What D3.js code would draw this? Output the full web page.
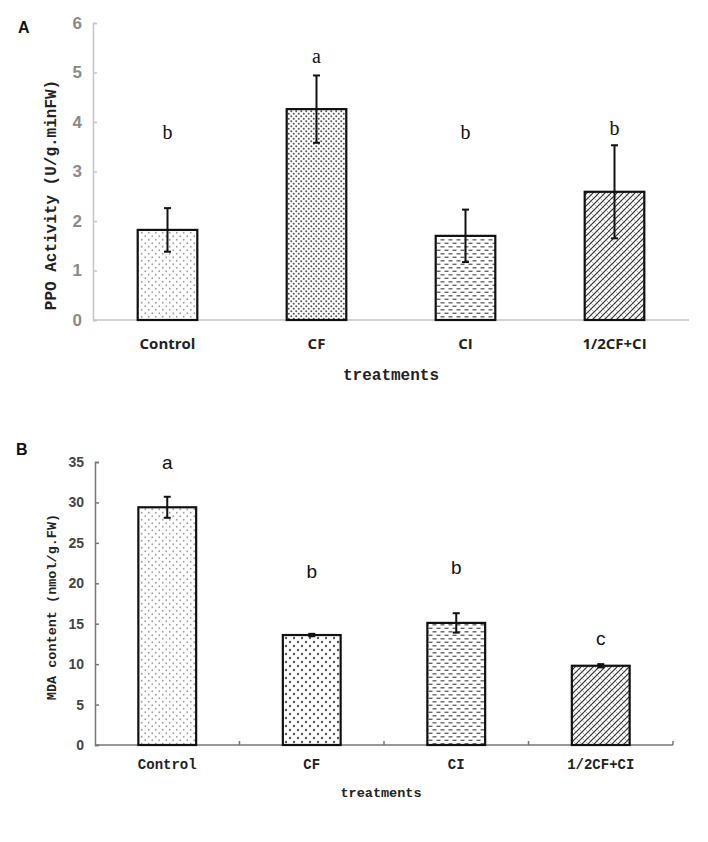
<!DOCTYPE html>
<html><head><meta charset="utf-8">
<script src="https://cdn.jsdelivr.net/npm/d3@7"></script>
<style>body{margin:0;background:#fff}svg{display:block}</style>
</head><body>
<script>
const categories = ["Control", "CF", "CI", "1/2CF+CI"];
const ppoMean = [1.82, 4.26, 1.70, 2.59];
const ppoErr = [0.44, 0.68, 0.53, 0.94];
const ppoLetters = ["b", "a", "b", "b"];
const ppoLetterY = [3.8, 5.33, 3.8, 3.88];
const ppoTicks = [0, 1, 2, 3, 4, 5, 6];
const mdaMean = [29.4, 13.6, 15.1, 9.8];
const mdaErr = [1.3, 0.15, 1.2, 0.2];
const mdaLetters = ["a", "b", "b", "c"];
const mdaLetterY = [34.9, 21.5, 21.9, 13.2];
const mdaTicks = [0, 5, 10, 15, 20, 25, 30, 35];
const patternsA = ["pDotLight", "pDotDense", "pDash", "pDiag"];
const patternsB = ["pDotLight", "pDotBig", "pDash", "pDiag"];

const svg = d3.select("body").append("svg").attr("width", 708).attr("height", 842);
const defs = svg.append("defs");

// patterns
function dotPattern(id, size, r, color) {
  const p = defs.append("pattern").attr("id", id).attr("patternUnits", "userSpaceOnUse")
    .attr("width", size).attr("height", size);
  p.append("rect").attr("width", size).attr("height", size).attr("fill", "#fff");
  p.append("circle").attr("cx", size / 4).attr("cy", size / 4).attr("r", r).attr("fill", color);
  p.append("circle").attr("cx", 3 * size / 4).attr("cy", 3 * size / 4).attr("r", r).attr("fill", color);
}
dotPattern("pDotLight", 7, 0.9, "#a0a0a0");
dotPattern("pDotDense", 5, 1.0, "#555");
dotPattern("pDotBig", 8, 1.2, "#555");
{
  const p = defs.append("pattern").attr("id", "pDash").attr("patternUnits", "userSpaceOnUse")
    .attr("width", 8).attr("height", 7);
  p.append("rect").attr("width", 8).attr("height", 7).attr("fill", "#fff");
  p.append("line").attr("x1", 0.5).attr("x2", 4.5).attr("y1", 1.8).attr("y2", 1.8).attr("stroke", "#666").attr("stroke-width", 1.4);
  p.append("line").attr("x1", 4.5).attr("x2", 8.5).attr("y1", 5.3).attr("y2", 5.3).attr("stroke", "#666").attr("stroke-width", 1.4);
  p.append("line").attr("x1", -3.5).attr("x2", 0.5).attr("y1", 5.3).attr("y2", 5.3).attr("stroke", "#666").attr("stroke-width", 1.4);
}
{
  const p = defs.append("pattern").attr("id", "pDiag").attr("patternUnits", "userSpaceOnUse")
    .attr("width", 6).attr("height", 6);
  p.append("rect").attr("width", 6).attr("height", 6).attr("fill", "#fff");
  p.append("path").attr("d", "M-1,7 L7,-1 M-4,4 L4,-4 M2,10 L10,2").attr("stroke", "#333").attr("stroke-width", 1.2);
  p.append("path").attr("d", "M0,0 L6,6").attr("stroke", "#999").attr("stroke-width", 0.7);
}

function panel(cfg) {
  const x = d3.scaleBand().domain(categories).range([cfg.x0, cfg.x1])
    .paddingInner(0.6).paddingOuter(0.3);
  const y = d3.scaleLinear().domain([0, cfg.ticks[cfg.ticks.length - 1]]).range([cfg.y0, cfg.y1]);
  const g = svg.append("g");

  // y axis
  const ya = g.append("g").attr("transform", `translate(${cfg.x0},0)`)
    .call(d3.axisRight(y).tickValues(cfg.ticks).tickSize(4).tickFormat(""));
  ya.selectAll("path,line").attr("stroke", cfg.axisColor).attr("stroke-width", 1.5);
  g.selectAll(".ytl").data(cfg.ticks).join("text")
    .attr("x", cfg.x0 - 11).attr("y", d => y(d)).attr("text-anchor", "end")
    .attr("dominant-baseline", "central")
    .attr("font-family", cfg.tickFont).attr("font-weight", "bold").attr("font-size", cfg.tickSize)
    .attr("fill", cfg.tickColor).text(d => d);

  // x axis
  const xa = g.append("g").attr("transform", `translate(0,${cfg.y0})`);
  xa.append("line").attr("x1", cfg.x0).attr("x2", cfg.x1).attr("stroke", cfg.axisColor).attr("stroke-width", 1.5);
  if (cfg.xTicks) {
    const bounds = categories.map(c => x(c) - x.step() * x.paddingInner() / 2 + x.step());
    xa.selectAll(".xt").data(bounds).join("line")
      .attr("x1", d => d).attr("x2", d => d).attr("y1", 0).attr("y2", -4)
      .attr("stroke", cfg.axisColor).attr("stroke-width", 1.5);
  }
  g.selectAll(".xtl").data(categories).join("text")
    .attr("x", d => x(d) + x.bandwidth() / 2).attr("y", cfg.catY).attr("text-anchor", "middle")
    .attr("dominant-baseline", "central")
    .attr("font-family", cfg.catFont).attr("font-weight", "bold").attr("font-size", cfg.catSize)
    .attr("fill", "#222").text(d => d);

  // bars
  g.selectAll(".bar").data(categories).join("rect")
    .attr("x", d => x(d)).attr("width", x.bandwidth())
    .attr("y", (d, i) => y(cfg.mean[i])).attr("height", (d, i) => cfg.y0 - y(cfg.mean[i]))
    .attr("fill", (d, i) => `url(#${cfg.patterns[i]})`)
    .attr("stroke", "#111").attr("stroke-width", 2.2);

  // error bars
  categories.forEach((c, i) => {
    const cx = x(c) + x.bandwidth() / 2;
    const top = y(cfg.mean[i] + cfg.err[i]), bot = y(cfg.mean[i] - cfg.err[i]);
    g.append("line").attr("x1", cx).attr("x2", cx).attr("y1", top).attr("y2", bot).attr("stroke", "#111").attr("stroke-width", 2);
    [top, bot].forEach(yy => g.append("line").attr("x1", cx - 3.5).attr("x2", cx + 3.5)
      .attr("y1", yy).attr("y2", yy).attr("stroke", "#111").attr("stroke-width", 2));
  });

  // letters
  g.selectAll(".let").data(categories).join("text")
    .attr("x", d => x(d) + x.bandwidth() / 2).attr("y", (d, i) => y(cfg.letterY[i]))
    .attr("text-anchor", "middle").attr("dominant-baseline", "central")
    .attr("font-family", cfg.letterFont).attr("font-size", cfg.letterSize).attr("fill", "#111")
    .text((d, i) => cfg.letters[i]);

  // axis titles
  g.append("text").attr("x", cfg.xTitleX).attr("y", cfg.xTitleY).attr("text-anchor", "middle")
    .attr("dominant-baseline", "central")
    .attr("font-family", "Liberation Mono, DejaVu Sans Mono, monospace").attr("font-weight", "bold")
    .attr("font-size", cfg.xTitleSize).attr("fill", "#222").text("treatments");
  g.append("text").attr("transform", `translate(${cfg.yTitleX},${cfg.yTitleY}) rotate(-90)`)
    .attr("text-anchor", "middle").attr("dominant-baseline", "central")
    .attr("font-family", "Liberation Mono, DejaVu Sans Mono, monospace").attr("font-weight", "bold")
    .attr("font-size", cfg.yTitleSize).attr("fill", "#222").text(cfg.yTitle);

  svg.append("text").attr("x", cfg.labX).attr("y", cfg.labY).attr("dominant-baseline", "central")
    .attr("font-family", "Liberation Sans, Arial, sans-serif").attr("font-weight", "bold")
    .attr("font-size", 16).attr("fill", "#111").text(cfg.label);
}

panel({
  x0: 93, x1: 689, y0: 320, y1: 23, ticks: ppoTicks, mean: ppoMean, err: ppoErr,
  letters: ppoLetters, letterY: ppoLetterY, patterns: patternsA,
  axisColor: "#c4c4c4", tickColor: "#8a8a8a", tickFont: "Liberation Sans, sans-serif", tickSize: 17,
  catFont: "Open Sans, Liberation Sans, sans-serif", catSize: 15, catY: 343,
  letterFont: "Liberation Serif, serif", letterSize: 20,
  xTitleX: 391, xTitleY: 376, xTitleSize: 16,
  yTitle: "PPO Activity (U/g.minFW)", yTitleX: 52, yTitleY: 195, yTitleSize: 16,
  xTicks: false, label: "A", labX: 18, labY: 27
});

panel({
  x0: 95, x1: 673, y0: 745, y1: 462, ticks: mdaTicks, mean: mdaMean, err: mdaErr,
  letters: mdaLetters, letterY: mdaLetterY, patterns: patternsB,
  axisColor: "#777", tickColor: "#444", tickFont: "Liberation Sans, sans-serif", tickSize: 14,
  catFont: "Liberation Mono, DejaVu Sans Mono, monospace", catSize: 14, catY: 765,
  letterFont: "Liberation Sans, Arial, sans-serif", letterSize: 19,
  xTitleX: 381, xTitleY: 793, xTitleSize: 13.5,
  yTitle: "MDA content (nmol/g.FW)", yTitleX: 52, yTitleY: 607, yTitleSize: 13.5,
  xTicks: true, label: "B", labX: 16, labY: 449
});
</script>
</body></html>
